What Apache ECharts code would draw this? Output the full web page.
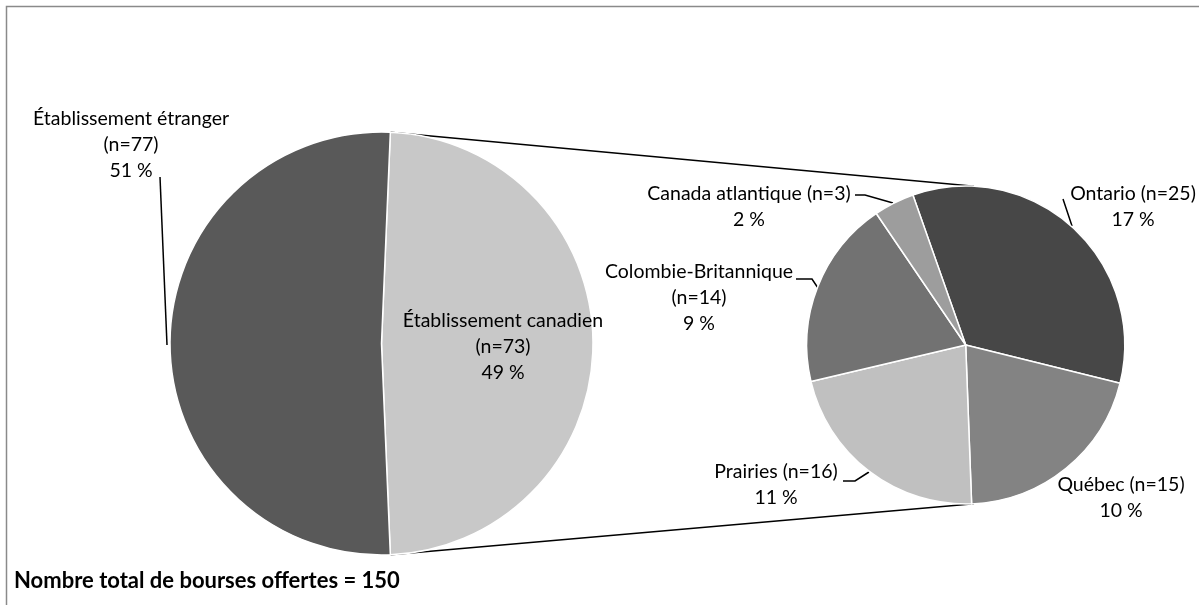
<!DOCTYPE html>
<html>
<head>
<meta charset="utf-8">
<script src="https://cdn.jsdelivr.net/npm/echarts@6/dist/echarts.min.js"></script>
<style>
  html, body { margin: 0; padding: 0; background: #fff; }
  #chart { width: 1199px; height: 605px; }
</style>
</head>
<body>
<div id="chart"></div>
<script>
// premier niveau : établissement canadien / étranger
const mainNames = ['Établissement canadien', 'Établissement étranger']
const mainValues = [73, 77]
const mainColors = ['#c8c8c8', '#595959']

// détail des établissements canadiens
const subNames = ['Ontario', 'Québec', 'Prairies', 'Colombie-Britannique', 'Canada atlantique']
const subValues = [25, 15, 16, 14, 3]
const subColors = ['#474747', '#838383', '#c0c0c0', '#727272', '#9d9d9d']

const titleText = 'Nombre total de bourses offertes = 150'

const total = mainValues.reduce((a, b) => a + b, 0)
const pct = v => Math.round(v / total * 100) + ' %'

// mise en page
const mainC = [381.5, 343.5], mainR = 211.5
const subC = [965.7, 345], subR = 159
const canFrac = mainValues[0] / total
const mainStart = 90 - (90 - canFrac * 180)   // part canadienne centrée à droite
const subStart = 109.4

// où mettre les étiquettes (centre du bloc) et leurs traits
const labelPos = {
  'Établissement canadien': { x: 503, y: 347, line: null, nl: true },
  'Établissement étranger': { x: 131, y: 145, line: [[160, 177], [167, 345]], nl: true },
  'Ontario': { x: 1133, y: 207, line: [[1063, 199], [1072, 226]] },
  'Québec': { x: 1121, y: 498, line: null },
  'Prairies': { x: 776, y: 485, line: [[843, 481], [855, 481], [869, 472]] },
  'Colombie-Britannique': { x: 699, y: 298, line: [[796, 279], [812, 279], [818, 288]], nl: true },
  'Canada atlantique': { x: 749, y: 207, line: [[855, 195], [865, 195], [893, 203]] }
}

const fmt = p => {
  const lp = labelPos[p.name]
  return p.name + (lp.nl ? '\n' : ' ') + '(n=' + p.value + ')\n' + pct(p.value)
}

const mkData = (names, values, colors) => names.map((n, i) => ({
  name: n,
  value: values[i],
  itemStyle: { color: colors[i] },
  labelLine: { show: !!labelPos[n].line }
}))

const labelStyle = {
  show: true,
  position: 'outside',
  formatter: fmt,
  fontFamily: 'Lato, "Open Sans", sans-serif',
  fontSize: 19.5,
  lineHeight: 26,
  color: '#000',
  align: 'center'
}

const seriesNames = [mainNames, subNames]
const chart = echarts.init(document.getElementById('chart'))

const pt = (c, r, deg) => [c[0] + r * Math.cos(deg * Math.PI / 180), c[1] - r * Math.sin(deg * Math.PI / 180)]
const lt = pt(mainC, mainR, mainStart)
const lb = pt(mainC, mainR, mainStart - canFrac * 360)
const rt = pt(subC, subR, 87)
const rb = pt(subC, subR, -87)

chart.setOption({
  animation: false,
  backgroundColor: '#fff',
  graphic: [
    { type: 'rect', shape: { x: 6.5, y: 6.5, width: 1400, height: 800 }, style: { fill: 'none', stroke: '#8a8a8a', lineWidth: 1.5 } },
    { type: 'line', shape: { x1: lt[0], y1: lt[1], x2: rt[0], y2: rt[1] }, style: { stroke: '#000', lineWidth: 1.5 } },
    { type: 'line', shape: { x1: lb[0], y1: lb[1], x2: rb[0], y2: rb[1] }, style: { stroke: '#000', lineWidth: 1.5 } },
    { type: 'text', left: 14, top: 570, style: { text: titleText, font: 'bold 22px Lato, "Open Sans", sans-serif', fill: '#000' } }
  ],
  series: [
    {
      type: 'pie',
      center: mainC,
      radius: mainR,
      startAngle: mainStart,
      clockwise: true,
      avoidLabelOverlap: false,
      itemStyle: { borderColor: '#fff', borderWidth: 1.5 },
      label: labelStyle,
      labelLine: { lineStyle: { color: '#000', width: 1.5 } },
      labelLayout: p => layout(0, p),
      emphasis: { disabled: true },
      data: mkData(mainNames, mainValues, mainColors)
    },
    {
      type: 'pie',
      center: subC,
      radius: subR,
      startAngle: subStart,
      clockwise: true,
      avoidLabelOverlap: false,
      itemStyle: { borderColor: '#fff', borderWidth: 1.5 },
      label: labelStyle,
      labelLine: { lineStyle: { color: '#000', width: 1.5 } },
      labelLayout: p => layout(1, p),
      emphasis: { disabled: true },
      data: mkData(subNames, subValues, subColors)
    }
  ]
})

function layout(s, p) {
  const lp = labelPos[seriesNames[s][p.dataIndex]]
  const out = { x: lp.x, y: lp.y, align: 'center', verticalAlign: 'middle' }
  if (lp.line) out.labelLinePoints = lp.line
  return out
}
</script>
</body>
</html>
